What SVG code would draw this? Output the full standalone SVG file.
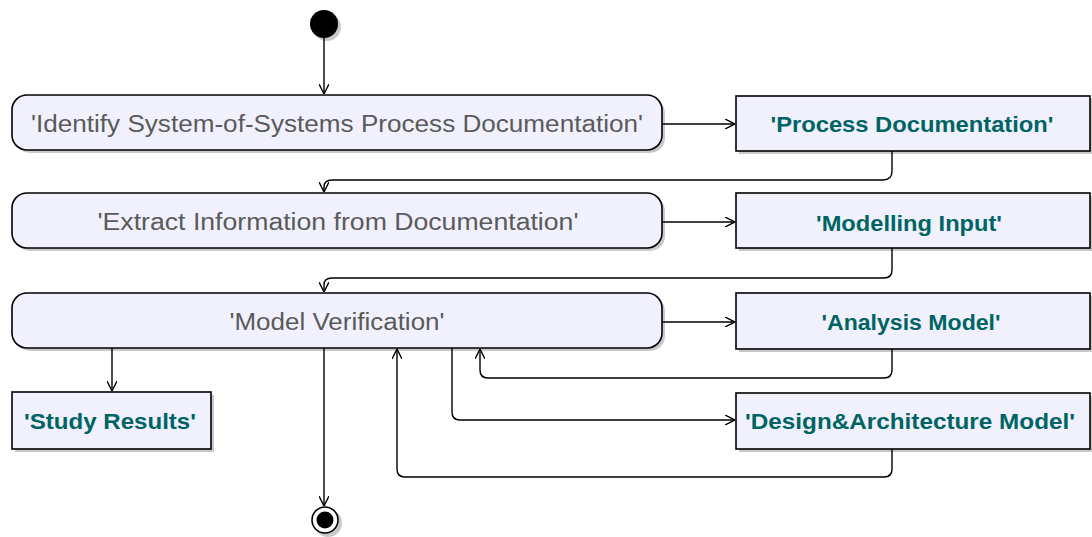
<svg xmlns="http://www.w3.org/2000/svg" width="1092" height="537" viewBox="0 0 1092 537">
<style>
.shadow{fill:#c9c9c9;stroke:none}
.box{fill:#f1f1fd;stroke:#000;stroke-width:1.6}
.act{font-family:"Liberation Sans",Arial,sans-serif;font-size:23px;fill:#5a5a5a;text-anchor:middle}
.obj{font-family:"Liberation Sans",Arial,sans-serif;font-size:22px;font-weight:bold;fill:#006464;text-anchor:middle}
.edge{fill:none;stroke:#000;stroke-width:1.4}
</style>
<defs>
<marker id="arr" viewBox="0 0 10 10" refX="10" refY="5" markerWidth="10" markerHeight="10" markerUnits="userSpaceOnUse" orient="auto">
<path d="M0,0 L10,5 L0,10" fill="none" stroke="#000" stroke-width="1.4"/>
</marker>
</defs>
<g id="start">
<circle cx="327" cy="27" r="14" class="shadow"/>
<circle cx="324" cy="24" r="14" fill="#000"/>
</g>
<g id="a1">
<rect x="15" y="98" width="650" height="55" rx="15" class="shadow"/>
<rect x="12" y="95" width="650" height="55" rx="15" class="box"/>
<text x="337" y="132" class="act" textLength="612" lengthAdjust="spacingAndGlyphs">'Identify System-of-Systems Process Documentation'</text>
</g>
<g id="o1">
<rect x="739" y="99" width="354" height="55" class="shadow"/>
<rect x="736" y="96" width="354" height="55" class="box"/>
<text x="912" y="132" class="obj" textLength="283" lengthAdjust="spacingAndGlyphs">'Process Documentation'</text>
</g>
<g id="a2">
<rect x="15" y="196" width="650" height="55" rx="15" class="shadow"/>
<rect x="12" y="193" width="650" height="55" rx="15" class="box"/>
<text x="338" y="230" class="act" textLength="481" lengthAdjust="spacingAndGlyphs">'Extract Information from Documentation'</text>
</g>
<g id="o2">
<rect x="739" y="196" width="354" height="55" class="shadow"/>
<rect x="736" y="193" width="354" height="55" class="box"/>
<text x="909" y="231" class="obj" textLength="186" lengthAdjust="spacingAndGlyphs">'Modelling Input'</text>
</g>
<g id="a3">
<rect x="15" y="296" width="650" height="55" rx="15" class="shadow"/>
<rect x="12" y="293" width="650" height="55" rx="15" class="box"/>
<text x="337" y="330" class="act" textLength="215" lengthAdjust="spacingAndGlyphs">'Model Verification'</text>
</g>
<g id="o3">
<rect x="739" y="296" width="354" height="56" class="shadow"/>
<rect x="736" y="293" width="354" height="56" class="box"/>
<text x="911" y="330" class="obj" textLength="179" lengthAdjust="spacingAndGlyphs">'Analysis Model'</text>
</g>
<g id="o4">
<rect x="739" y="396" width="354" height="56" class="shadow"/>
<rect x="736" y="393" width="354" height="56" class="box"/>
<text x="910" y="429" class="obj" textLength="330" lengthAdjust="spacingAndGlyphs">'Design&amp;Architecture Model'</text>
</g>
<g id="o5">
<rect x="15" y="395" width="199" height="57" class="shadow"/>
<rect x="12" y="392" width="199" height="57" class="box"/>
<text x="110" y="429" class="obj" textLength="172" lengthAdjust="spacingAndGlyphs">'Study Results'</text>
</g>
<g id="end">
<circle cx="328" cy="523" r="14" class="shadow"/>
<circle cx="325" cy="520" r="13" fill="#fff" stroke="#000" stroke-width="1.6"/>
<circle cx="325" cy="520" r="8.5" fill="#000"/>
</g>
<g id="connectors">
<path class="edge" marker-end="url(#arr)" d="M324,38 V94"/>
<path class="edge" marker-end="url(#arr)" d="M662,124 H735"/>
<path class="edge" marker-end="url(#arr)" d="M892,151 V171 Q892,180 883,180 H332 Q324,180 324,187 V192"/>
<path class="edge" marker-end="url(#arr)" d="M662,222 H735"/>
<path class="edge" marker-end="url(#arr)" d="M892,248 V270 Q892,278 884,278 H332 Q324,278 324,285 V292"/>
<path class="edge" marker-end="url(#arr)" d="M662,322 H735"/>
<path class="edge" marker-end="url(#arr)" d="M892,349 V370 Q892,378 884,378 H488 Q480,378 480,370 V349"/>
<path class="edge" marker-end="url(#arr)" d="M452,348 V412 Q452,420 460,420 H735"/>
<path class="edge" marker-end="url(#arr)" d="M892,449 V469 Q892,477 884,477 H405 Q397,477 397,469 V349"/>
<path class="edge" marker-end="url(#arr)" d="M112,348 V391"/>
<path class="edge" marker-end="url(#arr)" d="M324,348 V506"/>
</g>
</svg>
